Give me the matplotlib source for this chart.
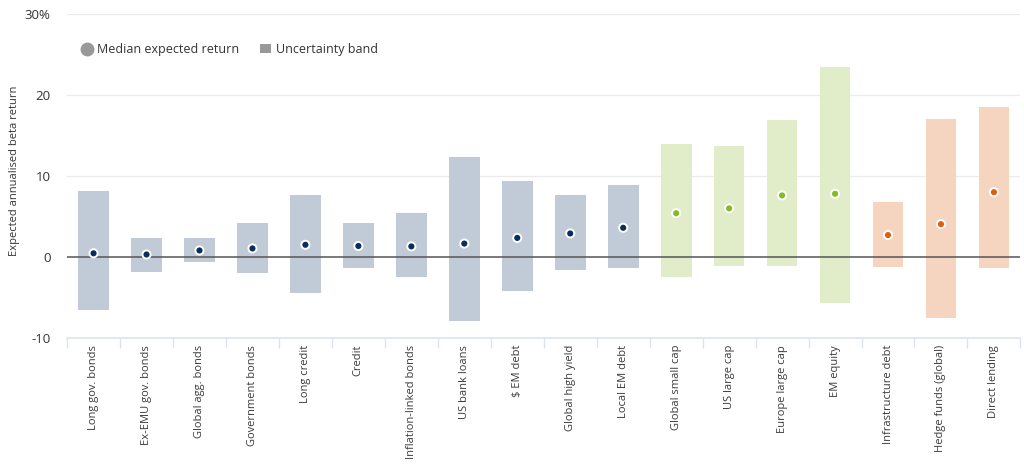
import matplotlib
matplotlib.use('Agg')
import matplotlib.pyplot as plt
from matplotlib.lines import Line2D
from matplotlib.patches import Patch

categories = [
    'Long gov. bonds', 'Ex-EMU gov. bonds', 'Global agg. bonds', 'Government bonds',
    'Long credit', 'Credit', 'Inflation-linked bonds', 'US bank loans', '$ EM debt',
    'Global high yield', 'Local EM debt', 'Global small cap', 'US large cap',
    'Europe large cap', 'EM equity', 'Infrastructure debt', 'Hedge funds (global)',
    'Direct lending',
]
band_top = [8.1, 2.4, 2.35, 4.2, 7.6, 4.2, 5.4, 12.3, 9.4,
            7.7, 8.85, 13.9, 13.7, 16.9, 23.5, 6.8, 17.0, 18.5]
band_bottom = [-6.5, -1.85, -0.65, -2.0, -4.5, -1.35, -2.5, -7.9, -4.2,
               -1.65, -1.35, -2.5, -1.1, -1.15, -5.7, -1.2, -7.5, -1.35]
median = [0.45, 0.3, 0.8, 1.05, 1.5, 1.35, 1.3, 1.65, 2.35,
          2.9, 3.6, 5.4, 6.0, 7.6, 7.8, 2.7, 4.05, 8.0]
groups = ['fi'] * 11 + ['eq'] * 4 + ['alt'] * 3

band_colors = {'fi': '#c1cad7', 'eq': '#e1ecc9', 'alt': '#f6d5c0'}
dot_colors = {'fi': '#0b2d5b', 'eq': '#86b827', 'alt': '#df5f10'}

plt.rcParams['font.family'] = ['Open Sans', 'DejaVu Sans']

fig = plt.figure(figsize=(10.24, 4.68), dpi=100)
ax = fig.add_axes([0.0655, 0.278, 0.931, 0.692])

x = list(range(len(categories)))
heights = [t - b for t, b in zip(band_top, band_bottom)]
ax.bar(x, heights, bottom=band_bottom, width=0.58,
       color=[band_colors[g] for g in groups], zorder=2)
ax.scatter(x, median, s=34, c=[dot_colors[g] for g in groups],
           edgecolors='white', linewidths=1.4, zorder=4)

ax.axhline(0, color='#555555', lw=1.1, zorder=3)
for yv in (10, 20, 30):
    ax.axhline(yv, color='#ebebeb', lw=0.9, zorder=1)

ax.set_xlim(-0.5, len(categories) - 0.5)
ax.set_ylim(-10, 30)
ax.set_yticks([-10, 0, 10, 20, 30])
ax.set_yticklabels(['-10', '0', '10', '20', '30%'], fontsize=9.5, color='#333333')
ax.tick_params(axis='y', length=0, pad=12)

ax.set_xticks(x)
ax.set_xticklabels(categories, rotation=90, fontsize=8, color='#3a3a3a', va='top')
ax.tick_params(axis='x', length=0, pad=5)
# category separators below the axis
ax.set_xticks([i - 0.5 for i in range(len(categories) + 1)], minor=True)
ax.tick_params(axis='x', which='minor', length=7, color='#dde3ec', width=1)

for side in ('top', 'right', 'left'):
    ax.spines[side].set_visible(False)
ax.spines['bottom'].set_color('#dde3ec')
ax.spines['bottom'].set_linewidth(1.2)

ax.set_ylabel('Expected annualised beta return', fontsize=8, color='#333333')
ax.yaxis.set_label_coords(-0.049, 0.515)

handles = [
    Line2D([], [], marker='o', ls='', markersize=9, markerfacecolor='#999999',
           markeredgecolor='#999999', label='Median expected return'),
    Patch(facecolor='#999999', label='Uncertainty band'),
]
ax.legend(handles=handles, loc='upper left', bbox_to_anchor=(0.003, 0.945), ncol=2,
          frameon=False, fontsize=9, handlelength=0.9, handletextpad=0.4,
          columnspacing=1.6, labelcolor='#333333')

fig.savefig('out.png', dpi=100)
